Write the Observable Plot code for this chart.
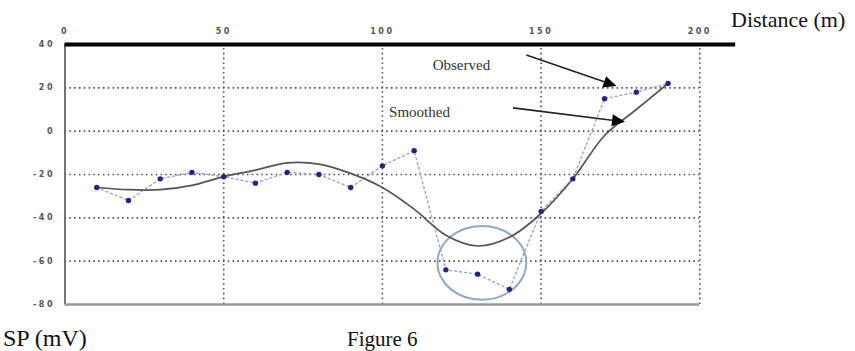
<!DOCTYPE html>
<html>
<head>
<meta charset="utf-8">
<script src="https://cdn.jsdelivr.net/npm/d3@7"></script>
<script src="https://cdn.jsdelivr.net/npm/@observablehq/plot@0.6"></script>
<style>
  html, body { margin: 0; padding: 0; background: #fff; }
  #wrap { position: relative; width: 855px; height: 351px; overflow: hidden; }
  .lbl { position: absolute; font-family: "Liberation Serif", "DejaVu Serif", serif; color: #111; white-space: nowrap; line-height: 1; }
</style>
</head>
<body>
<div id="wrap">
  <div id="chart"></div>
  <div class="lbl" style="left:731px; top:9px; font-size:22px;">Distance (m)</div>
  <div class="lbl" style="left:3px; top:326px; font-size:24px;">SP (mV)</div>
  <div class="lbl" style="left:347px; top:329px; font-size:21px;">Figure 6</div>
</div>
<script>
// Data
const distance = [10, 20, 30, 40, 50, 60, 70, 80, 90, 100, 110, 120, 130, 140, 150, 160, 170, 180, 190];
const observed = [-26, -32, -22, -19, -21, -24, -19, -20, -26, -16, -9, -64, -66, -73, -37, -22, 15, 18, 22];
const smoothed = [-26, -27, -27, -25, -21, -18, -14.6, -15.2, -19.5, -26, -36, -48, -53, -49, -38, -22, -2, 10, 22];
const xTicks = [0, 50, 100, 150, 200];
const yTicks = [40, 20, 0, -20, -40, -60, -80];
const xGrid = [50, 100, 150, 200];
const yGrid = [20, 0, -20, -40, -60];

// Annotations
const noteText = ["Observed", "Smoothed"];
const noteX = [124.9, 111.7];
const noteY = [30.3, 8.6];
const arrowX1 = [145.5, 141.3];
const arrowY1 = [34.9, 10.5];
const arrowX2 = [173.9, 176.6];
const arrowY2 = [20.6, 4.1];
const circleCX = [131.5];
const circleCY = [-61];
const circleRX = [14];
const circleRY = [17];

const obsData = distance.map((d, i) => ({d, v: observed[i]}));
const smData = distance.map((d, i) => ({d, v: smoothed[i]}));
const notes = noteText.map((t, i) => ({t, x: noteX[i], y: noteY[i]}));
const arrows = arrowX1.map((x1, i) => ({x1, y1: arrowY1[i], x2: arrowX2[i], y2: arrowY2[i]}));

const svgNS = "http://www.w3.org/2000/svg";

function arrowMark(index, scales) {
  const g = document.createElementNS(svgNS, "g");
  for (const a of arrows) {
    const x1 = scales.x(a.x1), y1 = scales.y(a.y1), x2 = scales.x(a.x2), y2 = scales.y(a.y2);
    const ang = Math.atan2(y2 - y1, x2 - x1);
    const L = 13, W = 6;
    const bx = x2 - L * Math.cos(ang), by = y2 - L * Math.sin(ang);
    const line = document.createElementNS(svgNS, "line");
    line.setAttribute("x1", x1); line.setAttribute("y1", y1);
    line.setAttribute("x2", bx); line.setAttribute("y2", by);
    line.setAttribute("stroke", "#222"); line.setAttribute("stroke-width", 1.6);
    g.appendChild(line);
    const p = document.createElementNS(svgNS, "polygon");
    const px = -Math.sin(ang) * W, py = Math.cos(ang) * W;
    p.setAttribute("points", `${x2},${y2} ${bx + px},${by + py} ${bx - px},${by - py}`);
    p.setAttribute("fill", "#000");
    g.appendChild(p);
  }
  return g;
}

function circleMark(index, scales) {
  const g = document.createElementNS(svgNS, "g");
  circleCX.forEach((cx, i) => {
    const e = document.createElementNS(svgNS, "ellipse");
    const X = scales.x(cx), Y = scales.y(circleCY[i]);
    const rx = Math.abs(scales.x(cx + circleRX[i]) - X);
    const ry = Math.abs(scales.y(circleCY[i] + circleRY[i]) - Y);
    e.setAttribute("cx", X); e.setAttribute("cy", Y);
    e.setAttribute("rx", rx); e.setAttribute("ry", ry);
    e.setAttribute("fill", "none");
    e.setAttribute("stroke", "#8fa9c4");
    e.setAttribute("stroke-width", 2);
    g.appendChild(e);
  });
  return g;
}

const gridStyle = {stroke: "#555", strokeWidth: 1.6, strokeDasharray: "1.6,3.2"};

const chart = Plot.plot({
  width: 855,
  height: 351,
  marginLeft: 64.5,
  marginRight: 155.7,
  marginTop: 44,
  marginBottom: 47,
  style: {background: "#fff", overflow: "visible"},
  x: {domain: [0, 200], axis: null},
  y: {domain: [-80, 40], axis: null},
  marks: [
    // grid
    Plot.ruleY(yGrid, {x1: 0, x2: 200, ...gridStyle}),
    Plot.ruleX(xGrid, {y1: -80, y2: 40, ...gridStyle}),
    // axes lines
    Plot.ruleX([0], {y1: -80, y2: 40, stroke: "#666", strokeWidth: 1.8}),
    Plot.ruleY([-80], {x1: 0, x2: 200, stroke: "#999", strokeWidth: 2.5}),
    Plot.ruleY([40], {x1: 0, x2: 211.3, stroke: "#000", strokeWidth: 4}),
    // tick labels
    Plot.text(xTicks, {x: d => d, y: 40, text: d => String(d), dy: -13,
      fontSize: 8, fontWeight: "bold", fill: "#555", fontFamily: "DejaVu Sans"}),
    Plot.text(yTicks, {x: 0, y: d => d, text: d => String(d), textAnchor: "end", dx: -10,
      fontSize: 8, fontWeight: "bold", fill: "#555", fontFamily: "DejaVu Sans"}),
    // circle highlight
    circleMark,
    // observed
    Plot.line(obsData, {x: "d", y: "v", stroke: "#9ea4d6", strokeWidth: 1.4, strokeDasharray: "2,3"}),
    // smoothed
    Plot.line(smData, {x: "d", y: "v", stroke: "#555", strokeWidth: 1.7, curve: "catmull-rom"}),
    Plot.dot(obsData, {x: "d", y: "v", r: 2.7, fill: "#23238c", stroke: "none"}),
    // annotations
    Plot.text(notes, {x: "x", y: "y", text: "t", fontSize: 15, fill: "#333", fontFamily: "Liberation Serif"}),
    arrowMark
  ]
});
const svg = chart.tagName.toLowerCase() === "svg" ? chart : chart.querySelector("svg");
svg.querySelectorAll("text").forEach(t => {
  if (/^-?\d+$/.test(t.textContent)) t.setAttribute("letter-spacing", "2.5");
});
document.getElementById("chart").appendChild(chart);
</script>
</body>
</html>
